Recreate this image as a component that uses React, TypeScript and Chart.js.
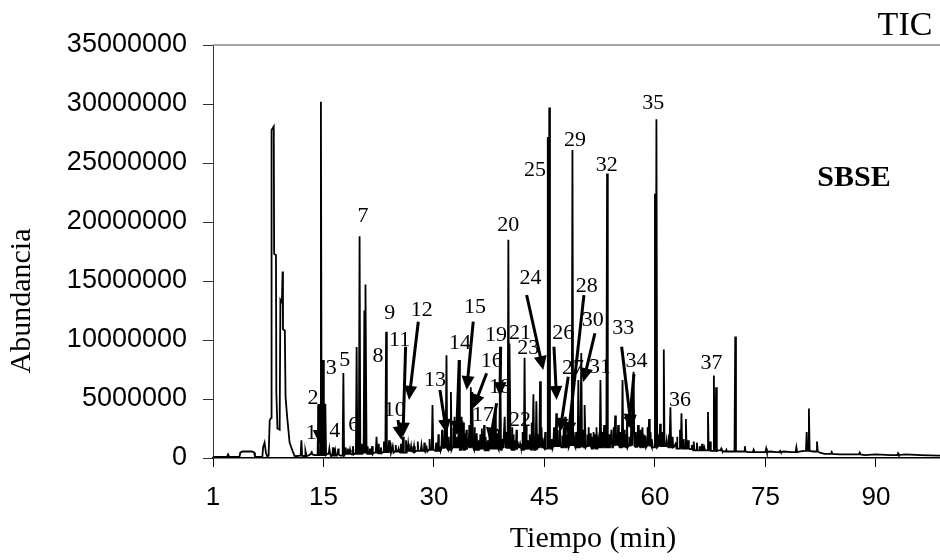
import React, { useEffect, useRef } from "react";
import { Chart, registerables } from "chart.js";

Chart.register(...registerables);

// ---- axis ticks ----
const xTickValues = [0, 15, 30, 45, 60, 75, 90];
const xTickLabels = ["1", "15", "30", "45", "60", "75", "90"];
const yTickValues = [0, 5000000, 10000000, 15000000, 20000000, 25000000, 30000000, 35000000];
const xMax = 98.7;

// ---- early region (solvent peaks), millions ----
const solventTimes = [0.0, 1.9, 2.05, 2.2, 3.6, 3.7, 4.0, 5.3, 5.6, 5.7, 6.7, 6.8, 7.0, 7.2, 7.35, 7.55, 7.7, 7.9, 7.95, 8.25, 8.3, 8.55, 8.6, 8.75, 9.05, 9.15, 9.35, 9.45, 9.5, 9.75, 9.85, 10.05, 10.4, 10.8, 11.1];
const solventValues = [0.1, 0.1, 0.3, 0.1, 0.1, 0.45, 0.55, 0.55, 0.45, 0.1, 0.1, 0.9, 1.3, 0.4, 0.15, 0.2, 3.2, 3.4, 27.8, 28.1, 17.3, 17.2, 5.5, 2.5, 2.4, 13.4, 13.2, 15.8, 10.9, 10.8, 5.2, 3.6, 1.3, 0.6, 0.15];

// ---- baseline after the solvent region, millions ----
const baseTimes = [11.2, 11.8, 12.5, 13.2, 13.8, 15.5, 16.0, 16.8, 17.3, 18.0, 18.8, 19.2, 20.3, 21.0, 21.8, 22.5, 23.2, 24.0, 24.8, 25.5, 26.3, 27.0, 27.6, 28.8, 29.4, 30.2, 31.0, 31.9, 32.6, 33.6, 34.5, 35.5, 36.2, 37.0, 37.5, 38.8, 39.3, 40.6, 41.3, 42.0, 42.6, 43.2, 44.0, 45.0, 46.2, 47.4, 48.5, 49.2, 50.8, 51.5, 52.2, 53.9, 54.3, 55.3, 56.5, 57.4, 58.0, 58.8, 59.6, 60.5, 61.9, 62.6, 63.0, 64.8, 65.2, 66.5, 67.6, 68.6, 69.3, 70.3, 71.4, 72.6, 73.5, 74.5, 75.6, 76.5, 77.5, 78.5, 79.6, 80.2, 81.5, 82.4, 83.0, 85.0, 87.0, 88.5, 90.0, 92.0, 94.0, 96.0, 98.7];
const baseValues = [0.15, 0.2, 0.15, 0.3, 0.25, 0.35, 0.2, 0.3, 0.2, 0.35, 0.3, 0.35, 0.45, 0.35, 0.45, 0.4, 0.5, 0.45, 0.55, 0.45, 0.6, 0.5, 0.6, 0.55, 0.7, 0.6, 0.8, 0.7, 0.9, 0.7, 0.9, 0.7, 0.8, 0.65, 0.8, 0.7, 0.85, 0.7, 0.9, 0.7, 0.8, 0.7, 0.9, 0.8, 1.0, 0.9, 1.1, 0.9, 1.0, 0.8, 0.9, 0.9, 1.05, 0.9, 1.05, 0.95, 0.9, 1.05, 0.9, 1.0, 0.9, 0.95, 0.8, 0.75, 0.65, 0.65, 0.6, 0.65, 0.55, 0.55, 0.55, 0.5, 0.55, 0.5, 0.55, 0.5, 0.55, 0.5, 0.55, 0.6, 0.55, 0.45, 0.35, 0.3, 0.3, 0.25, 0.3, 0.25, 0.3, 0.25, 0.2];

// ---- main peaks: retention (axis units) and apex abundance (millions) ----
const peakTimes = [12.0, 12.6, 13.4, 14.3, 14.65, 14.95, 15.25, 15.8, 16.3, 16.6, 17.7, 18.3, 18.6, 19.0, 19.5, 19.9, 20.55, 20.75, 21.3, 21.6, 22.2, 22.8, 23.5, 23.9, 24.4, 24.8, 25.2, 25.8, 26.5, 26.9, 27.3, 28.3, 29.0, 29.8, 30.3, 30.8, 31.3, 31.7, 32.0, 32.3, 32.8, 33.1, 33.4, 33.8, 34.2, 34.6, 35.0, 35.2, 35.8, 36.1, 36.5, 37.0, 37.3, 37.8, 38.3, 38.6, 39.0, 39.3, 39.6, 40.1, 40.3, 41.0, 41.4, 41.7, 42.3, 42.8, 43.5, 43.9, 44.15, 44.4, 44.8, 45.45, 45.65, 46.0, 46.6, 47.1, 47.4, 47.8, 48.2, 48.8, 49.3, 49.6, 50.0, 50.5, 50.8, 51.2, 51.5, 51.9, 52.3, 52.6, 53.1, 53.5, 54.1, 54.6, 54.8, 55.0, 55.6, 56.2, 56.5, 56.8, 57.1, 57.7, 58.3, 58.7, 59.2, 59.6, 60.0, 60.2, 60.7, 61.2, 61.6, 62.1, 62.8, 63.4, 63.6, 64.2, 64.5, 65.0, 65.7, 66.1, 66.7, 67.2, 68.0, 68.3, 69.0, 69.7, 70.9, 72.2, 73.4, 75.1, 77.0, 79.2, 80.6, 80.9, 82.0, 84.0, 87.8, 93.0];
const peakHeights = [1.5, 0.6, 0.5, 4.5, 30.2, 8.3, 4.6, 0.8, 0.9, 0.6, 7.2, 0.8, 0.7, 1.0, 9.4, 18.8, 12.5, 14.7, 0.8, 1.0, 1.8, 0.9, 10.7, 1.5, 1.0, 1.1, 0.8, 1.8, 1.2, 1.0, 1.0, 1.1, 0.9, 4.5, 1.3, 1.0, 1.6, 8.7, 1.8, 5.6, 3.5, 1.8, 8.3, 3.5, 2.1, 1.6, 6.0, 5.6, 2.1, 1.5, 2.5, 1.8, 1.5, 2.4, 4.2, 2.1, 9.4, 1.6, 3.5, 18.5, 9.7, 1.5, 1.4, 1.2, 8.5, 1.5, 5.4, 4.8, 2.0, 6.5, 1.7, 27.2, 29.7, 1.6, 3.8, 2.8, 1.9, 3.5, 2.1, 26.1, 2.2, 6.6, 8.9, 4.5, 2.0, 2.1, 1.8, 2.0, 1.5, 6.6, 2.8, 24.1, 2.4, 3.6, 2.0, 2.8, 6.6, 3.1, 1.8, 3.3, 7.3, 2.8, 2.6, 1.9, 3.3, 1.6, 22.4, 28.7, 2.9, 9.2, 1.5, 4.3, 1.2, 2.4, 3.8, 3.3, 1.5, 1.1, 1.3, 1.0, 0.9, 3.9, 7.0, 6.0, 0.8, 0.7, 10.3, 1.0, 0.7, 0.8, 0.6, 0.9, 2.2, 4.2, 1.4, 0.5, 0.45, 0.4];

// ---- minor peaks (the dense "grass"), millions ----
const minorTimes = [17.0, 18.0, 20.2, 21.0, 22.5, 23.2, 24.1, 25.5, 26.2, 27.8, 28.7, 29.4, 30.6, 31.1, 31.5, 32.6, 33.6, 34.0, 34.4, 34.8, 35.5, 36.3, 36.8, 37.5, 38.0, 38.8, 39.8, 40.6, 40.8, 41.2, 42.0, 42.5, 43.0, 43.3, 44.6, 45.1, 46.3, 46.8, 47.6, 48.0, 48.5, 49.0, 49.8, 50.3, 51.0, 51.7, 52.1, 52.9, 53.8, 54.4, 55.3, 55.8, 56.0, 57.4, 57.9, 58.1, 58.5, 59.0, 59.4, 60.5, 61.0, 61.9, 62.4, 63.0, 63.9, 65.3, 66.4, 67.5];
const minorHeights = [0.8, 0.9, 1.2, 1.0, 1.2, 1.4, 1.3, 1.2, 1.5, 1.4, 1.3, 1.6, 2.0, 2.4, 2.8, 2.6, 2.2, 3.0, 2.4, 2.8, 2.6, 2.0, 2.8, 2.2, 2.6, 2.4, 2.2, 2.6, 2.0, 2.4, 2.2, 2.8, 2.0, 3.0, 2.6, 2.2, 2.6, 2.4, 2.6, 2.0, 2.4, 2.2, 3.0, 2.4, 2.6, 2.2, 2.6, 2.2, 2.0, 2.6, 2.2, 2.4, 2.0, 2.2, 2.0, 2.4, 2.0, 2.6, 2.2, 2.0, 2.2, 2.0, 1.8, 1.8, 1.6, 1.4, 1.2, 1.4];

// ---- compound labels: text, position (axis units, millions) ----
const labelTexts = ["1", "2", "3", "4", "5", "6", "7", "8", "9", "10", "11", "12", "13", "14", "15", "16", "17", "18", "19", "20", "21", "22", "23", "24", "25", "26", "27", "28", "29", "30", "31", "32", "33", "34", "35", "36", "37"];
const labelTimes = [13.34, 13.57, 16.06, 16.52, 17.88, 19.1, 20.36, 22.4, 23.99, 24.66, 25.34, 28.33, 30.13, 33.53, 35.56, 37.83, 36.65, 38.96, 38.41, 40.08, 41.67, 41.67, 42.8, 43.12, 43.71, 47.55, 48.87, 50.73, 49.14, 51.54, 52.53, 53.44, 55.69, 57.51, 59.77, 63.39, 67.69];
const labelValues = [2.09, 5.06, 7.6, 2.23, 8.31, 2.8, 20.45, 8.59, 12.26, 4.07, 10.0, 12.54, 6.61, 9.75, 12.8, 8.16, 3.64, 6.04, 10.42, 19.75, 10.57, 3.22, 9.3, 15.23, 24.41, 10.57, 7.63, 14.52, 26.95, 11.7, 7.71, 24.83, 10.99, 8.16, 30.06, 4.92, 8.03];

// ---- arrows: [fromTime, fromValue, tipTime, tipValue] ----
const arrows = [
  [14.39, 4.58, 14.46, 1.19],
  [25.11, 3.22, 25.59, 1.53],
  [26.15, 9.43, 25.79, 1.81],
  [27.87, 11.55, 26.61, 4.92],
  [30.81, 5.76, 31.72, 2.09],
  [33.43, 8.31, 33.08, 1.95],
  [35.33, 11.55, 34.44, 5.76],
  [37.15, 7.18, 35.33, 4.21],
  [38.51, 4.64, 37.6, 1.38],
  [39.05, 9.43, 38.96, 5.25],
  [42.58, 13.81, 44.84, 7.46],
  [46.29, 9.43, 46.65, 4.92],
  [48.23, 6.89, 47.1, 2.2],
  [50.36, 13.81, 48.23, 1.86],
  [51.85, 10.57, 50.27, 6.44],
  [55.48, 9.43, 56.83, 2.37],
  [57.15, 7.12, 56.47, 2.54],
];

const SERIF = "'Liberation Serif', 'Times New Roman', serif";
const SANS = "'Liberation Sans', Arial, sans-serif";
const M = 1000000;

function buildTrace() {
  const pts: { x: number; y: number }[] = [];
  solventTimes.forEach((t, i) => pts.push({ x: t, y: solventValues[i] * M }));
  baseTimes.forEach((t, i) => pts.push({ x: t, y: baseValues[i] * M }));
  const footAt = (t: number) => {
    let v = baseValues[0];
    for (let i = 0; i < baseTimes.length; i++) if (baseTimes[i] <= t) v = baseValues[i];
    return v;
  };
  const addPeak = (t: number, h: number, hw: number) => {
    const f = footAt(t) * M;
    pts.push({ x: t - hw, y: f });
    pts.push({ x: t, y: h * M });
    pts.push({ x: t + hw, y: f });
  };
  peakTimes.forEach((t, i) => addPeak(t, peakHeights[i], 0.1));
  minorTimes.forEach((t, i) => addPeak(t, minorHeights[i], 0.07));
  pts.sort((a, b) => a.x - b.x);
  return pts;
}

const decor = {
  id: "decor",
  afterDatasetsDraw(chart: any) {
    const { ctx, chartArea, scales } = chart;
    const xs = scales.x;
    const ys = scales.y;
    ctx.save();
    // top frame line
    ctx.strokeStyle = "#8a8a8a";
    ctx.lineWidth = 1.5;
    ctx.beginPath();
    ctx.moveTo(chartArea.left, chartArea.top);
    ctx.lineTo(chartArea.right, chartArea.top);
    ctx.stroke();

    // arrows
    ctx.strokeStyle = "#000";
    ctx.fillStyle = "#000";
    arrows.forEach(([ft, fv, tt, tv]) => {
      const x1 = xs.getPixelForValue(ft);
      const y1 = ys.getPixelForValue(fv * M);
      const x2 = xs.getPixelForValue(tt);
      const y2 = ys.getPixelForValue(tv * M);
      const dx = x2 - x1;
      const dy = y2 - y1;
      const len = Math.hypot(dx, dy) || 1;
      const ux = dx / len;
      const uy = dy / len;
      const L = 14;
      const W = 6.5;
      ctx.lineWidth = 3;
      ctx.beginPath();
      ctx.moveTo(x1, y1);
      ctx.lineTo(x2 - ux * L * 0.8, y2 - uy * L * 0.8);
      ctx.stroke();
      ctx.beginPath();
      ctx.moveTo(x2, y2);
      ctx.lineTo(x2 - ux * L - uy * W, y2 - uy * L + ux * W);
      ctx.lineTo(x2 - ux * L + uy * W, y2 - uy * L - ux * W);
      ctx.closePath();
      ctx.fill();
    });

    // compound numbers
    ctx.font = `22px ${SERIF}`;
    ctx.textAlign = "center";
    ctx.textBaseline = "middle";
    labelTexts.forEach((s, i) => {
      ctx.fillText(s, xs.getPixelForValue(labelTimes[i]), ys.getPixelForValue(labelValues[i] * M));
    });
    ctx.restore();
  },
  afterDraw(chart: any) {
    const { ctx } = chart;
    ctx.save();
    ctx.fillStyle = "#000";
    ctx.textAlign = "center";
    ctx.textBaseline = "middle";
    ctx.font = `34px ${SERIF}`;
    ctx.fillText("TIC", 905, 26);
    ctx.font = `bold 30px ${SERIF}`;
    ctx.fillText("SBSE", 854, 178);
    ctx.font = `30px ${SERIF}`;
    ctx.fillText("Tiempo (min)", 593, 539);
    ctx.translate(22, 301);
    ctx.rotate(-Math.PI / 2);
    ctx.fillText("Abundancia", 0, 0);
    ctx.restore();
  },
};

export default function App() {
  const ref = useRef<HTMLCanvasElement | null>(null);
  useEffect(() => {
    if (!ref.current) return;
    const chart = new Chart(ref.current, {
      type: "line",
      data: {
        datasets: [
          {
            data: buildTrace(),
            borderColor: "#000",
            borderWidth: 1.8,
            pointRadius: 0,
            tension: 0,
            fill: false,
          },
        ],
      },
      options: {
        animation: false,
        responsive: false,
        maintainAspectRatio: false,
        devicePixelRatio: 1,
        parsing: false,
        normalized: true,
        layout: { padding: { top: 45, left: 0, right: 0, bottom: 0 } },
        plugins: { legend: { display: false }, tooltip: { enabled: false }, title: { display: false } },
        scales: {
          x: {
            type: "linear",
            min: 0,
            max: xMax,
            afterFit: (s: any) => {
              s.height = 102;
            },
            afterBuildTicks: (s: any) => {
              s.ticks = xTickValues.map((v) => ({ value: v }));
            },
            ticks: {
              autoSkip: false,
              maxRotation: 0,
              padding: 15,
              color: "#000",
              font: { family: SANS, size: 26 },
              callback: (_v: any, i: number) => xTickLabels[i],
            },
            grid: { drawOnChartArea: false, drawTicks: true, tickLength: 9, color: "#000", lineWidth: 1 },
            border: { color: "#000", width: 1.5 },
          },
          y: {
            min: 0,
            max: 35000000,
            afterFit: (s: any) => {
              s.width = 213;
            },
            afterBuildTicks: (s: any) => {
              s.ticks = yTickValues.map((v) => ({ value: v }));
            },
            ticks: {
              padding: 16,
              color: "#000",
              font: { family: SANS, size: 27 },
              callback: (v: any) => String(v),
            },
            grid: { drawOnChartArea: false, drawTicks: true, tickLength: 10, color: "#333", lineWidth: 1 },
            border: { color: "#333", width: 1 },
          },
        },
      },
      plugins: [decor],
    });
    return () => chart.destroy();
  }, []);
  return (
    <div style={{ position: "fixed", left: 0, top: 0, width: 940, height: 560, background: "#fff", overflow: "hidden" }}>
      <canvas ref={ref} width={940} height={560} style={{ display: "block", width: 940, height: 560 }} />
    </div>
  );
}
